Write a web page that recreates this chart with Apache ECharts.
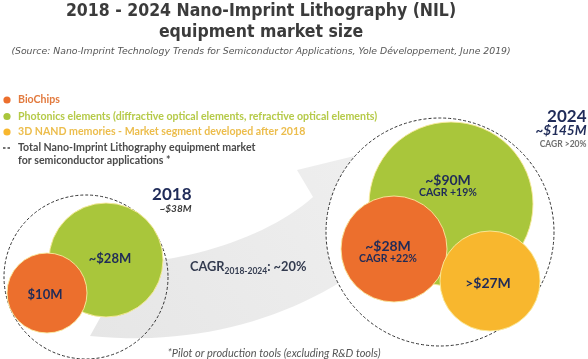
<!DOCTYPE html>
<html>
<head>
<meta charset="utf-8">
<script src="https://cdn.jsdelivr.net/npm/echarts@6/dist/echarts.min.js"></script>
<style>html,body{margin:0;padding:0;background:#fff;}#c{width:588px;height:359px;}</style>
</head>
<body>
<div id="c"></div>
<script>
// ---- data ----
const titleLines = ['2018 - 2024 Nano-Imprint Lithography (NIL)', 'equipment market size'];
const sourceText = '(Source: Nano-Imprint Technology Trends for Semiconductor Applications, Yole Développement, June 2019)';
const segments = ['BioChips', 'Photonics elements (diffractive optical elements, refractive optical elements)', '3D NAND memories - Market segment developed after 2018'];
const totalName = ['Total Nano-Imprint Lithography equipment market', 'for semiconductor applications *'];
const years = ['2018', '2024'];
const totals = [38, 145];
const totalPrefix = ['~', '~'];
const totalCagr = [null, '>20%'];
const values2018 = [10, 28, null];
const prefix2018 = ['', '~', ''];
const values2024 = [28, 90, 27];
const prefix2024 = ['~', '~', '>'];
const cagr2024 = [22, 19, null];
const overallCagr = '~20%';
const cagrPeriod = '2018-2024';
const footnote = '*Pilot or production tools (excluding R&D tools)';

// ---- layout (positions / sizes, not data) ----
const layout = {
  total: [{x: 86, y: 277, r: 82}, {x: 440, y: 232, r: 114}],
  y2018: [{x: 47, y: 293, r: 40, off: [-2, 2]}, {x: 106, y: 260, r: 57, off: [4, -1]}, null],
  y2024: [{x: 394, y: 249, r: 53, off: [-6, 3]}, {x: 451, y: 204, r: 82, off: [-3, -18]}, {x: 490, y: 281, r: 50, off: [-2, 2]}],
  yearLabel: [{x: 192, y: 187}, {x: 587, y: 109}],
  legendY: [100, 116.5, 132, 148]
};
const segColors = ['#ec6f2d', '#a9c63b', '#f8b72e'];
const segTextColors = ['#e27a3e', '#b5ca48', '#ecbd4c'];
const segZ = [4, 3, 5];
const navy = '#1f2b58';

// decorative swoosh outline (sampled cubic curves)
function cubic(p0, p1, p2, p3, n) {
  const pts = [];
  for (let i = 0; i <= n; i++) {
    const t = i / n, u = 1 - t;
    pts.push([
      u*u*u*p0[0] + 3*u*u*t*p1[0] + 3*u*t*t*p2[0] + t*t*t*p3[0],
      u*u*u*p0[1] + 3*u*u*t*p1[1] + 3*u*t*t*p2[1] + t*t*t*p3[1]
    ]);
  }
  return pts;
}
const swoosh = [].concat(
  cubic([90, 336], [190, 346], [280, 322], [350, 276], 24),
  [[362, 292], [420, 140], [297, 170]],
  cubic([313, 197], [270, 235], [200, 258], [130, 264], 24)
);

const series = [];
series.push({
  type: 'scatter', name: totalName.join(' '), z: 2,
  silent: true,
  data: totals.map((v, i) => {
    const L = layout.total[i], P = layout.yearLabel[i];
    let txt = '{y|' + years[i] + '}\n{' + (i === 0 ? 'v' : 'w') + '|' + totalPrefix[i] + '$' + v + 'M}';
    if (totalCagr[i]) txt += '\n{c|CAGR ' + totalCagr[i] + '}';
    return {
      value: [L.x, L.y, v],
      symbolSize: L.r * 2,
      itemStyle: {color: i === 0 ? 'rgba(255,255,255,0)' : '#ffffff'},
      label: {show: true, formatter: txt, position: [P.x - (L.x - L.r), P.y - (L.y - L.r)], align: 'right', verticalAlign: 'top'}
    };
  }),
  itemStyle: {borderColor: '#333', borderWidth: 1, borderType: [3, 2], opacity: 1},
  label: {
    fontFamily: 'Lato',
    rich: {
      y: {fontSize: 17, fontWeight: 'bold', color: navy, lineHeight: 16, fontFamily: 'Lato', align: 'right'},
      v: {fontSize: 10, fontWeight: 'bold', fontStyle: 'italic', color: '#3b3b3b', lineHeight: 12, fontFamily: 'Lato', align: 'right'},
      w: {fontSize: 13.5, fontWeight: 'bold', fontStyle: 'italic', color: navy, lineHeight: 13, fontFamily: 'Lato', align: 'right'},
      c: {fontSize: 8.5, fontWeight: 'bold', color: '#707070', lineHeight: 13, fontFamily: 'Lato', align: 'right'}
    }
  }
});

segments.forEach((name, s) => {
  const data = [];
  [[values2018, prefix2018, layout.y2018, null, 0], [values2024, prefix2024, layout.y2024, cagr2024, 1]].forEach(([vals, pre, lay, cg, yi]) => {
    if (vals[s] == null) return;
    const L = lay[s];
    let txt = '{' + (yi === 0 ? 'a' : 'b') + '|' + pre[s] + '$' + vals[s] + 'M}';
    if (cg && cg[s] != null) txt += '\n{c|CAGR +' + cg[s] + '%}';
    if (yi === 1 && s === 2) txt = '{d|' + pre[s] + '$' + vals[s] + 'M}';
    data.push({value: [L.x, L.y, vals[s]], symbolSize: L.r * 2, label: {formatter: txt, offset: L.off}});
  });
  series.push({
    type: 'scatter', name, z: segZ[s], silent: true,
    data,
    itemStyle: {color: segColors[s], opacity: 1, borderColor: 'rgba(250,235,160,0.9)', borderWidth: 1},
    label: {
      show: true, position: 'inside',
      rich: {
        a: {fontSize: 13, fontWeight: 'bold', color: navy, fontFamily: 'Lato', lineHeight: 14},
        b: {fontSize: 14, fontWeight: 'bold', color: navy, fontFamily: 'Lato', lineHeight: 14},
        d: {fontSize: 14, fontWeight: 'bold', color: navy, fontFamily: 'Lato', lineHeight: 14},
        c: {fontSize: 10.5, fontWeight: 'bold', color: navy, fontFamily: 'Lato', lineHeight: 12}
      }
    }
  });
});

// legend (graphic)
const legendEls = [];
segments.forEach((name, i) => {
  legendEls.push({type: 'circle', shape: {cx: 7, cy: layout.legendY[i], r: 3.6}, style: {fill: segColors[i]}});
  legendEls.push({type: 'text', x: 18, y: layout.legendY[i], style: {text: name, fill: segTextColors[i], font: 'bold 10.6px Lato', verticalAlign: 'middle'}});
});
legendEls.push({type: 'line', shape: {x1: 3, y1: layout.legendY[3], x2: 11, y2: layout.legendY[3]}, style: {stroke: '#444', lineWidth: 1.5, lineDash: [2.5, 2]}});
legendEls.push({type: 'text', x: 18, y: layout.legendY[3] - 6.5, style: {text: totalName.join('\n'), fill: '#4a4a4a', font: 'bold 10.6px Lato', lineHeight: 12.5, verticalAlign: 'top'}});

const option = {
  backgroundColor: '#fff',
  animation: false,
  grid: {left: 0, right: 0, top: 0, bottom: 0},
  xAxis: {type: 'value', min: 0, max: 588, show: false},
  yAxis: {type: 'value', min: 0, max: 359, inverse: true, show: false},
  graphic: [
    {type: 'text', z: 10, x: 261, y: 11, silent: true,
     style: {text: titleLines[0], font: 'bold 17.5px "DejaVu Sans Condensed", "DejaVu Sans"', fill: '#3b3b3b', align: 'center', verticalAlign: 'middle'}},
    {type: 'text', z: 10, x: 261, y: 32, silent: true,
     style: {text: titleLines[1], font: 'bold 17.5px "DejaVu Sans Condensed", "DejaVu Sans"', fill: '#3b3b3b', align: 'center', verticalAlign: 'middle'}},
    {type: 'text', z: 10, x: 261, y: 52, silent: true,
     style: {text: sourceText, font: 'italic 9.3px "DejaVu Sans"', fill: '#555', align: 'center', verticalAlign: 'middle'}},
    {type: 'polygon', z: 0, silent: true,
     shape: {points: swoosh},
     style: {fill: {type: 'linear', x: 0, y: 1, x2: 1, y2: 0, colorStops: [{offset: 0, color: '#e6e6e6'}, {offset: 1, color: '#f0f0f0'}]}}},
    {type: 'text', z: 10, x: 190, y: 267, silent: true,
     style: {
       text: '{a|CAGR}{s|' + cagrPeriod + '}{a|: ' + overallCagr + '}',
       verticalAlign: 'middle',
       rich: {
         a: {fontFamily: 'Lato', fontWeight: 'bold', fontSize: 12.8, fill: '#333b4f', lineHeight: 18, verticalAlign: 'middle'},
         s: {fontFamily: 'Lato', fontWeight: 'bold', fontSize: 8.5, fill: '#333b4f', lineHeight: 18, verticalAlign: 'bottom'}
       }
     }},
    {type: 'text', z: 10, x: 274, y: 353, silent: true,
     style: {text: footnote, font: 'italic 11px Lato', fill: '#555', align: 'center', verticalAlign: 'middle'}},
    {type: 'group', z: 10, silent: true, children: legendEls}
  ],
  series
};
const chart = echarts.init(document.getElementById('c'), null, {renderer: 'canvas'});
chart.setOption(option);
</script>
</body>
</html>
